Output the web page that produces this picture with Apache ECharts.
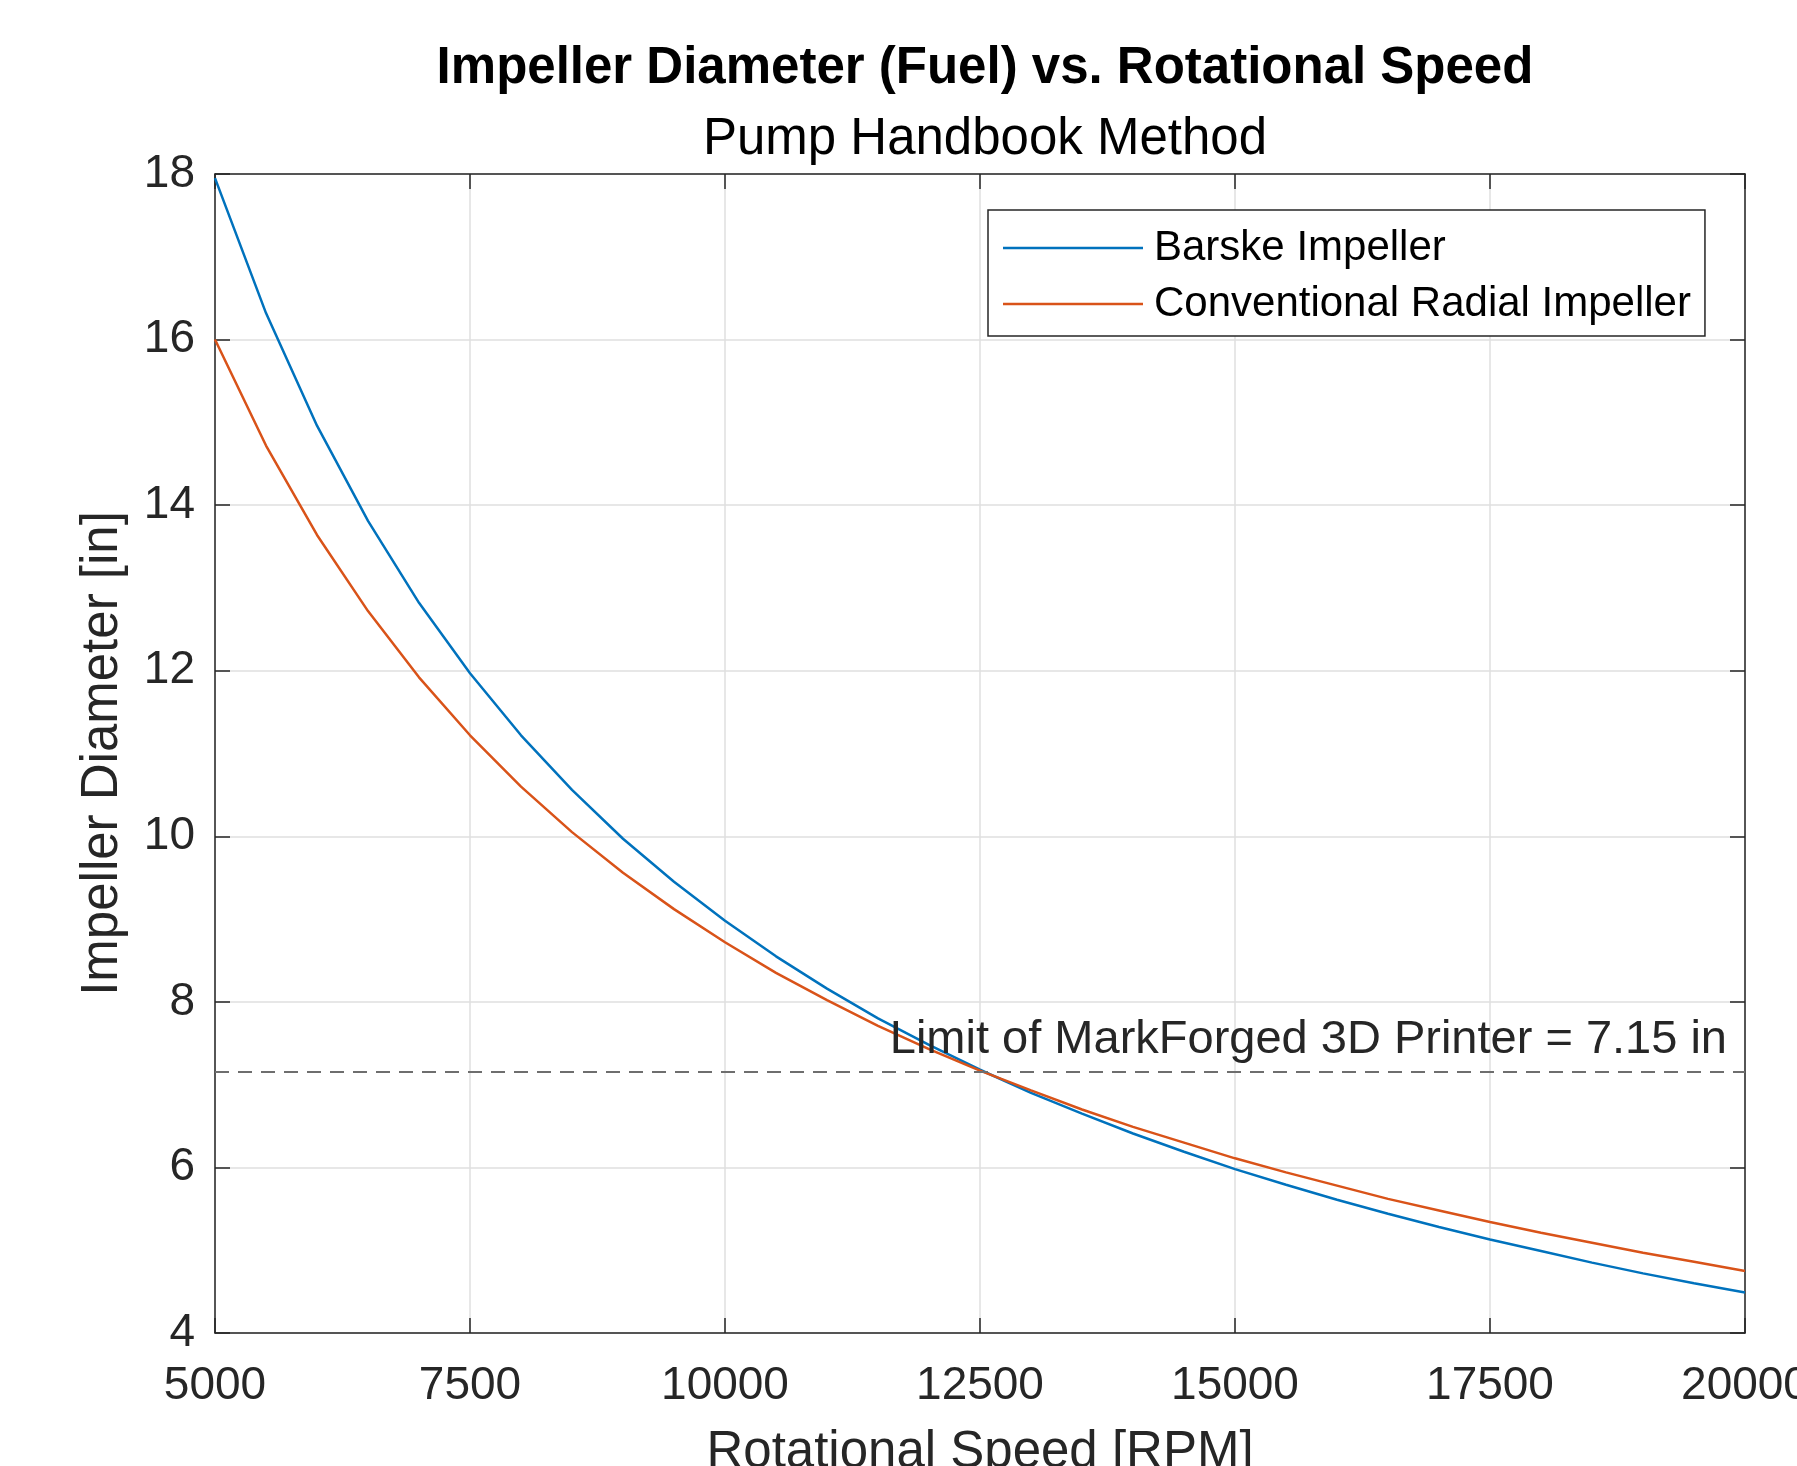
<!DOCTYPE html>
<html>
<head>
<meta charset="utf-8">
<title>Impeller Diameter (Fuel) vs. Rotational Speed</title>
<script src="https://cdn.jsdelivr.net/npm/echarts@6/dist/echarts.min.js"></script>
<style>
    html, body { margin: 0; padding: 0; background: #fff; overflow: hidden; }
    #g-echart { width: 100vw; height: 100vh; }
</style>
</head>
<body>
<div id="g-echart"></div>
<script>
// rotational speed [RPM]
var rpm = [5000, 5500, 6000, 6500, 7000, 7500, 8000, 8500, 9000, 9500,
    10000, 10500, 11000, 11500, 12000, 12500, 13000, 13500, 14000, 14500,
    15000, 15500, 16000, 16500, 17000, 17500, 18000, 18500, 19000, 19500, 20000];

// impeller diameter [in]
var barske = [17.95, 16.32, 14.96, 13.81, 12.82, 11.97, 11.22, 10.56, 9.97, 9.45,
    8.98, 8.55, 8.16, 7.80, 7.48, 7.18, 6.90, 6.65, 6.41, 6.19,
    5.98, 5.79, 5.61, 5.44, 5.28, 5.13, 4.99, 4.85, 4.72, 4.60, 4.49];
var radial = [16.00, 14.72, 13.64, 12.72, 11.92, 11.22, 10.60, 10.05, 9.56, 9.12,
    8.72, 8.35, 8.02, 7.71, 7.43, 7.17, 6.93, 6.70, 6.49, 6.30,
    6.11, 5.94, 5.78, 5.62, 5.48, 5.34, 5.21, 5.09, 4.97, 4.86, 4.75];

var printerLimit = 7.15;
var seriesNames = ['Barske Impeller', 'Conventional Radial Impeller'];

var FONT = '"Liberation Sans", Arial, Helvetica, sans-serif';
var INK = '#262626';

function pairs(ys) {
    return rpm.map(function (x, i) {
        return [x, ys[i]];
    });
}

// box axes: ticks inside on all four sides
function boxAxis(pos, min, max, interval, main) {
    return {
        type: 'value',
        position: pos,
        min: min,
        max: max,
        interval: interval,
        axisLine: {show: true, onZero: false, lineStyle: {color: INK, width: 1.5}},
        axisTick: {show: true, inside: true, length: 15, lineStyle: {color: INK, width: 1.5}},
        axisLabel: {
            show: main,
            color: INK,
            fontSize: 46,
            fontFamily: FONT,
            formatter: function (v) { return String(v); }  // no thousands separator
        },
        splitLine: {show: main, lineStyle: {color: '#dfdfdf', width: 1.5}}
    };
}

var xMain = boxAxis('bottom', 5000, 20000, 2500, true);
xMain.axisLabel.margin = 30;
xMain.name = 'Rotational Speed [RPM]';
xMain.nameLocation = 'middle';
xMain.nameGap = 94;
xMain.nameTextStyle = {color: INK, fontSize: 51, fontFamily: FONT};

var yMain = boxAxis('left', 4, 18, 2, true);
yMain.axisLabel.margin = 20;
yMain.name = 'Impeller Diameter [in]';
yMain.nameLocation = 'middle';
yMain.nameGap = 87;
yMain.nameTextStyle = {color: INK, fontSize: 51, fontFamily: FONT};

var mychart = echarts.init(document.getElementById('g-echart'), null, {renderer: 'canvas'});

var option = {
    animation: false,
    backgroundColor: '#fff',
    color: ['#0072BD', '#D95319'],
    title: [
        {
            text: 'Impeller Diameter (Fuel) vs. Rotational Speed',
            left: 980,
            textAlign: 'center',
            top: 38,
            textStyle: {color: '#000', fontSize: 51, fontWeight: 'bold', fontFamily: FONT}
        },
        {
            text: 'Pump Handbook Method',
            left: 980,
            textAlign: 'center',
            top: 109,
            textStyle: {color: '#000', fontSize: 51, fontWeight: 'normal', fontFamily: FONT}
        }
    ],
    grid: {
        left: 215,
        top: 174,
        width: 1530,
        height: 1159,
        containLabel: false,
        outerBoundsMode: 'none'  // labels may run past the edge, as in the original
    },
    legend: {
        data: seriesNames,
        orient: 'vertical',
        left: 988,
        top: 210,
        icon: 'rect',
        itemWidth: 140,
        itemHeight: 2.5,
        itemGap: 14,
        padding: [17, 14, 11, 15],
        borderColor: INK,
        borderWidth: 1.5,
        backgroundColor: '#fff',
        textStyle: {color: '#000', fontSize: 42, fontFamily: FONT, padding: [0, 0, 0, 6]}
    },
    xAxis: [xMain, boxAxis('top', 5000, 20000, 2500, false)],
    yAxis: [yMain, boxAxis('right', 4, 18, 2, false)],
    series: [
        {
            name: seriesNames[0],
            type: 'line',
            symbol: 'none',
            lineStyle: {width: 2.5},
            data: pairs(barske),
            markLine: {
                silent: true,
                symbol: ['none', 'none'],
                lineStyle: {color: '#6e6e6e', width: 2, type: [14, 9]},
                label: {
                    show: true,
                    position: 'insideEndTop',
                    distance: [18, 9],
                    formatter: 'Limit of MarkForged 3D Printer = ' + printerLimit + ' in',
                    color: INK,
                    fontSize: 47,
                    fontFamily: FONT
                },
                data: [{yAxis: printerLimit}]
            }
        },
        {
            name: seriesNames[1],
            type: 'line',
            symbol: 'none',
            lineStyle: {width: 2.5},
            data: pairs(radial)
        }
    ]
};

mychart.setOption(option);
</script>
</body>
</html>
